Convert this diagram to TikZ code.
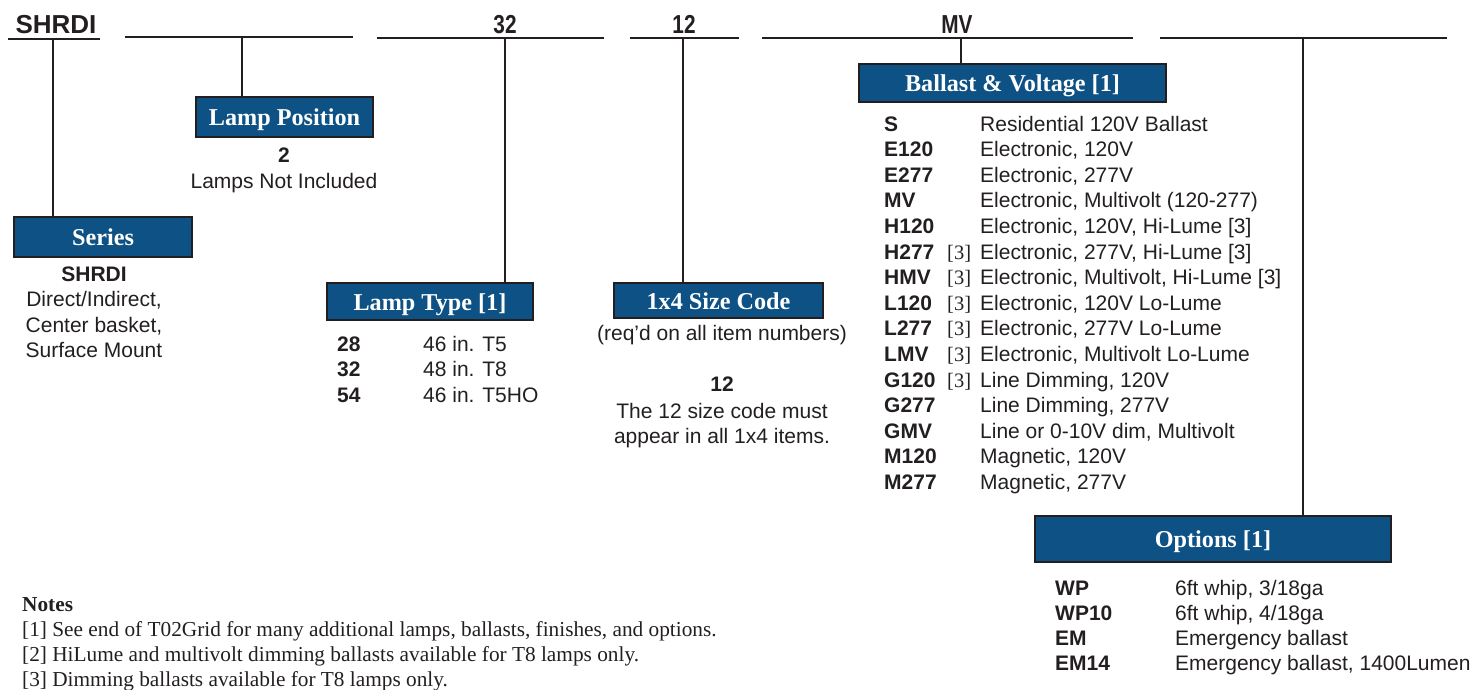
\documentclass[tikz,border=0pt]{standalone}
\usepackage{fontspec}
\setmainfont{Liberation Serif}
\setsansfont{Liberation Sans}
\usepackage{graphicx}

\definecolor{boxblue}{HTML}{0D5185}
\definecolor{ink}{HTML}{231F20}
\newcommand{\narrowcode}[1]{\scalebox{0.8}[1]{#1}}

\begin{document}
\begin{tikzpicture}[x=1pt, y=-1pt,
  rule/.style = {ink, line width=2.6pt},
  drop/.style = {ink, line width=2pt},
  header/.style = {draw=ink, fill=boxblue, line width=2.5pt, text=white, inner sep=0pt,
                   text height=17pt, text depth=0pt,
                   font=\fontsize{24.2}{26}\selectfont\bfseries},
  topcode/.style = {ink, anchor=base, inner sep=0pt, font=\sffamily\bfseries\fontsize{26}{28}\selectfont},
  body/.style = {ink, anchor=base west, inner sep=0pt, font=\sffamily\fontsize{21}{25}\selectfont},
  bodyc/.style = {body, anchor=base},
  code/.style = {body, font=\sffamily\bfseries\fontsize{21}{25}\selectfont},
  fnmark/.style = {body, font=\fontsize{20.5}{24}\selectfont},
  note/.style = {ink, anchor=base west, inner sep=0pt, font=\fontsize{21.3}{25}\selectfont}]

\useasboundingbox (0,0) rectangle (1477,689);

% Code line along the top
\node[topcode] (series-code) at (56,33) {SHRDI};
\node[topcode] (type-code) at (505,33) {\narrowcode{32}};
\node[topcode] (size-code) at (684,33) {\narrowcode{12}};
\node[topcode] (ballast-code) at (957,33) {\narrowcode{MV}};
\foreach \xa/\xb/\yy in {8/100/39, 125/353/37, 377/604/38, 630/739/38, 762/1133/38, 1160/1447/38}
  \draw[rule] (\xa,\yy) -- (\xb,\yy);

% Header boxes
\node[header, minimum width=178pt, minimum height=40pt] (series-box) at (103,237) {Series};
\node[header, minimum width=177pt, minimum height=40pt] (position-box) at (284.5,117) {Lamp Position};
\node[header, minimum width=206pt, minimum height=37pt] (type-box) at (430,301.5) {Lamp Type [1]};
\node[header, minimum width=209pt, minimum height=35pt] (size-box) at (718.5,300.5) {1x4 Size Code};
\node[header, minimum width=307pt, minimum height=38pt] (ballast-box) at (1012.5,83) {Ballast \& Voltage [1]};
\node[header, minimum width=356pt, minimum height=46pt] (options-box) at (1213,539) {Options [1]};

% Drops from the code line to the boxes
\coordinate (series-tap) at (53,39);
\coordinate (position-tap) at (242,37);
\coordinate (type-tap) at (505,38);
\coordinate (size-tap) at (683,38);
\coordinate (ballast-tap) at (961,38);
\coordinate (options-tap) at (1303,38);
\foreach \part in {series, position, type, size, ballast, options}
  \draw[drop] (\part-tap) -- (\part-tap |- \part-box.north);

% Series
\node[code, anchor=base] (series-name) at (94,281) {SHRDI};
\foreach \txt [count=\i] in {{Direct/Indirect,}, {Center basket,}, {Surface Mount}}
  \node[bodyc] (series-line-\i) at (94,{281+25.5*\i}) {\txt};

% Lamp position
\node[code, anchor=base] (position-num) at (284,162) {2};
\node[bodyc] (position-text) at (284,188) {Lamps Not Included};

% Lamp type
\foreach \code/\desc [count=\i from 0] in {28/46 in. T5, 32/48 in. T8, 54/46 in. T5HO}{
  \node[code] (type-code-\i) at (337,{351+25.5*\i}) {\code};
  \node[body] (type-desc-\i) at (423,{351+25.5*\i}) {\desc};
}

% Size code
\node[bodyc] (size-req) at (722,340) {(req'd on all item numbers)};
\node[code, anchor=base] (size-num) at (722,391) {12};
\node[bodyc] (size-line-1) at (722,418) {The 12 size code must};
\node[bodyc] (size-line-2) at (722,443) {appear in all 1x4 items.};

% Ballast & voltage
\foreach \code/\fn/\desc [count=\i from 0] in {
    S//Residential 120V Ballast,
    E120//{Electronic, 120V},
    E277//{Electronic, 277V},
    MV//{Electronic, Multivolt (120-277)},
    H120//{Electronic, 120V, Hi-Lume [3]},
    H277/{[3]}/{Electronic, 277V, Hi-Lume [3]},
    HMV/{[3]}/{Electronic, Multivolt, Hi-Lume [3]},
    L120/{[3]}/{Electronic, 120V Lo-Lume},
    L277/{[3]}/{Electronic, 277V Lo-Lume},
    LMV/{[3]}/{Electronic, Multivolt Lo-Lume},
    G120/{[3]}/{Line Dimming, 120V},
    G277//{Line Dimming, 277V},
    GMV//{Line or 0-10V dim, Multivolt},
    M120//{Magnetic, 120V},
    M277//{Magnetic, 277V}}{
  \node[code] (ballast-code-\i) at (884,{131+25.6*\i}) {\code};
  \ifx\fn\empty\else
    \node[fnmark] (ballast-fn-\i) at (947,{131+25.6*\i}) {\fn};
  \fi
  \node[body] (ballast-desc-\i) at (980,{131+25.6*\i}) {\desc};
}

% Options
\foreach \code/\desc [count=\i from 0] in {WP/{6ft whip, 3/18ga}, WP10/{6ft whip, 4/18ga},
    EM/Emergency ballast, EM14/{Emergency ballast, 1400Lumen}}{
  \node[code] (options-code-\i) at (1055,{595+25.3*\i}) {\code};
  \node[body] (options-desc-\i) at (1175,{595+25.3*\i}) {\desc};
}

% Notes
\node[note, font=\fontsize{21.3}{25}\selectfont\bfseries] (notes-title) at (22,611) {Notes};
\foreach \txt [count=\i] in {
    {[1] See end of T02Grid for many additional lamps, ballasts, finishes, and options.},
    {[2] HiLume and multivolt dimming ballasts available for T8 lamps only.},
    {[3] Dimming ballasts available for T8 lamps only.}}
  \node[note] (note-\i) at (22,{611+25.3*\i}) {\txt};

\end{tikzpicture}
\end{document}
